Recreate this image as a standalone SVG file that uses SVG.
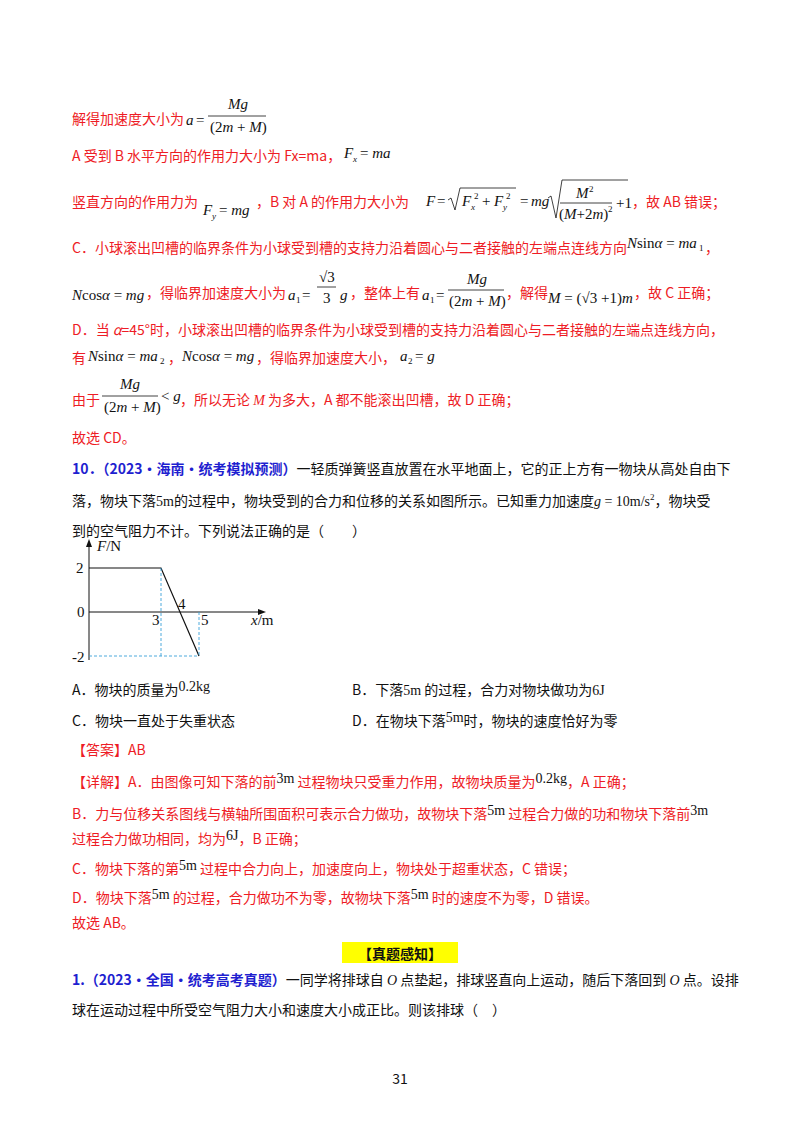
<svg xmlns="http://www.w3.org/2000/svg" width="800" height="1132" viewBox="0 0 800 1132">
<style>
text{font-family:"Noto Sans CJK SC","Noto Sans",sans-serif;font-size:14px}
.r{fill:#ee1c25}
.k{fill:#111}
.m{font-family:"Liberation Serif",serif;font-style:italic;fill:#111;font-size:15px}
.n{font-family:"Liberation Serif",serif;font-style:normal;fill:#111;font-size:15px}
.b{fill:#1f1fd0;font-weight:bold}
.s{font-size:9px}
</style>
<rect width="800" height="1132" fill="#fff"/>
<g id="solution">
<text x="72" y="124" class="r">解得加速度大小为</text>
<text x="186" y="125" class="m">a</text><text x="196" y="125" class="n">=</text>
<text x="228" y="109" class="m">Mg</text><line x1="208" y1="116" x2="266" y2="116" stroke="#111" stroke-width="0.8"/>
<text x="210" y="132" class="n">(2<tspan class="m">m</tspan> + <tspan class="m">M</tspan>)</text>
<text x="72" y="161" class="r">A 受到 B 水平方向的作用力大小为 Fx=ma，</text>
<text x="344" y="158" class="m">F</text><text x="353" y="162" class="m s">x</text><text x="360" y="158" class="n">= <tspan class="m">ma</tspan></text>
<text x="72" y="207" class="r">竖直方向的作用力为</text>
<text x="203" y="215" class="m">F</text><text x="212" y="219" class="m s">y</text><text x="219" y="215" class="n">= <tspan class="m">mg</tspan></text>
<text x="256" y="207" class="r">，B 对 A 的作用力大小为</text>
<text x="426" y="206" class="m">F</text><text x="437" y="206" class="n">=</text>
<path d="M448,200 l3,-2 l4,12 l5,-22 h56" fill="none" stroke="#111" stroke-width="0.8"/>
<text x="462" y="206" class="m">F</text><text x="471" y="210" class="m s">x</text><text x="474" y="199" class="n s">2</text>
<text x="482" y="206" class="n">+</text>
<text x="494" y="206" class="m">F</text><text x="503" y="210" class="m s">y</text><text x="506" y="199" class="n s">2</text>
<text x="520" y="206" class="n">=</text>
<text x="531" y="206" class="m">mg</text>
<path d="M548,198 l3,-2 l5,22 l6,-38 h66" fill="none" stroke="#111" stroke-width="0.8"/>
<text x="576" y="198" class="m">M</text><text x="589" y="192" class="n s">2</text>
<line x1="560" y1="203" x2="612" y2="203" stroke="#111" stroke-width="0.8"/>
<text x="559" y="219" class="n">(<tspan class="m">M</tspan>+2<tspan class="m">m</tspan>)</text><text x="608" y="212" class="n s">2</text>
<text x="616" y="208" class="n">+1</text>
<text x="632" y="207" class="r">，故 AB 错误；</text>
<text x="72" y="253" class="r">C．小球滚出凹槽的临界条件为小球受到槽的支持力沿着圆心与二者接触的左端点连线方向</text>
<text x="627" y="248" class="m">N<tspan class="n">sin</tspan>α<tspan class="n"> = </tspan>ma</text><text x="699" y="251" class="n s">1</text>
<text x="705" y="253" class="r">，</text>
<text x="72" y="300" class="m">N<tspan class="n">cos</tspan>α<tspan class="n"> = </tspan>mg</text>
<text x="146" y="298" class="r">，得临界加速度大小为</text>
<text x="288" y="300" class="m">a</text><text x="296" y="303" class="n s">1</text><text x="302" y="300" class="n">=</text>
<text x="319" y="282" class="n">√3</text><line x1="317" y1="287" x2="336" y2="287" stroke="#111" stroke-width="0.8"/>
<text x="323" y="303" class="n">3</text><text x="340" y="300" class="m">g</text>
<text x="350" y="298" class="r">，整体上有</text>
<text x="422" y="300" class="m">a</text><text x="430" y="303" class="n s">1</text><text x="436" y="300" class="n">=</text>
<text x="467" y="284" class="m">Mg</text><line x1="448" y1="290" x2="504" y2="290" stroke="#111" stroke-width="0.8"/>
<text x="449" y="306" class="n">(2<tspan class="m">m</tspan> + <tspan class="m">M</tspan>)</text>
<text x="506" y="298" class="r">，解得</text>
<text x="548" y="303" class="m">M<tspan class="n"> = (√3 +1)</tspan>m</text>
<text x="634" y="298" class="r">，故 C 正确；</text>
<text x="72" y="335" class="r">D．当 <tspan font-style="italic">α</tspan>=45°时，小球滚出凹槽的临界条件为小球受到槽的支持力沿着圆心与二者接触的左端点连线方向，</text>
<text x="72" y="363" class="r">有</text>
<text x="88" y="361" class="m">N<tspan class="n">sin</tspan>α<tspan class="n"> = </tspan>ma</text><text x="160" y="364" class="n s">2</text>
<text x="168" y="363" class="r">，</text>
<text x="182" y="361" class="m">N<tspan class="n">cos</tspan>α<tspan class="n"> = </tspan>mg</text>
<text x="256" y="363" class="r">，得临界加速度大小，</text>
<text x="400" y="361" class="m">a</text><text x="408" y="364" class="n s">2</text><text x="415" y="361" class="n">= <tspan class="m">g</tspan></text>
<text x="72" y="405" class="r">由于</text>
<text x="120" y="389" class="m">Mg</text><line x1="102" y1="396" x2="158" y2="396" stroke="#111" stroke-width="0.8"/>
<text x="104" y="412" class="n">(2<tspan class="m">m</tspan> + <tspan class="m">M</tspan>)</text>
<text x="161" y="401" class="n">&lt; <tspan class="m">g</tspan></text>
<text x="180" y="405" class="r">，所以无论 <tspan font-family="Liberation Serif" font-style="italic">M</tspan> 为多大，A 都不能滚出凹槽，故 D 正确；</text>
<text x="72" y="443" class="r">故选 CD。</text>
</g>
<g id="question10">
<text x="72" y="474" class="b">10．（2023·海南·统考模拟预测）<tspan class="k" font-weight="normal">一轻质弹簧竖直放置在水平地面上，它的正上方有一物块从高处自由下</tspan></text>
<text x="72" y="506" class="k">落，物块下落<tspan font-family="Liberation Serif">5m</tspan>的过程中，物块受到的合力和位移的关系如图所示。已知重力加速度<tspan font-family="Liberation Serif" font-style="italic">g</tspan><tspan font-family="Liberation Serif"> = 10m/s</tspan><tspan font-family="Liberation Serif" font-size="9" dy="-6">2</tspan><tspan dy="6">，物块受</tspan></text>
<text x="72" y="536" class="k">到的空气阻力不计。下列说法正确的是（　　）</text>
</g>
<g id="graph">
<line x1="89" y1="660" x2="89" y2="544" stroke="#111" stroke-width="1"/>
<path d="M86,547 L89,539 L92,547 Z" fill="#111"/>
<line x1="89" y1="612" x2="262" y2="612" stroke="#111" stroke-width="1"/>
<path d="M258,609 L266,612 L258,615 Z" fill="#111"/>
<polyline points="89,568 161,568 199,656" fill="none" stroke="#111" stroke-width="1.2"/>
<path d="M161,568 V656 M199,612 V656 M89,656 H199" fill="none" stroke="#3aa0d8" stroke-width="0.9" stroke-dasharray="3,2"/>
<text x="97" y="551" class="m">F<tspan class="n">/N</tspan></text>
<text x="76" y="573" class="n">2</text>
<text x="77" y="617" class="n">0</text>
<text x="72" y="662" class="n">-2</text>
<text x="152" y="625" class="n">3</text>
<text x="178" y="609" class="n">4</text>
<text x="201" y="625" class="n">5</text>
<text x="251" y="625" class="m">x<tspan class="n">/m</tspan></text>
</g>
<g id="options">
<text x="72" y="695" class="k">A．物块的质量为<tspan font-family="Liberation Serif" dy="-4">0.2kg</tspan></text>
<text x="352" y="695" class="k">B．下落<tspan font-family="Liberation Serif">5m</tspan> 的过程，合力对物块做功为<tspan font-family="Liberation Serif">6J</tspan></text>
<text x="72" y="726" class="k">C．物块一直处于失重状态</text>
<text x="352" y="726" class="k">D．在物块下落<tspan font-family="Liberation Serif" dy="-4">5m</tspan><tspan dy="4">时，物块的速度恰好为零</tspan></text>
</g>
<g id="answer">
<text x="72" y="755" class="r">【答案】AB</text>
<text x="72" y="787" class="r">【详解】A．由图像可知下落的前<tspan class="k" font-family="Liberation Serif" dy="-4">3m</tspan><tspan dy="4"> 过程物块只受重力作用，故物块质量为</tspan><tspan class="k" font-family="Liberation Serif" dy="-4">0.2kg</tspan><tspan dy="4">，A 正确；</tspan></text>
<text x="72" y="819" class="r">B．力与位移关系图线与横轴所围面积可表示合力做功，故物块下落<tspan class="k" font-family="Liberation Serif" dy="-4">5m</tspan><tspan dy="4"> 过程合力做的功和物块下落前</tspan><tspan class="k" font-family="Liberation Serif" dy="-4">3m</tspan></text>
<text x="72" y="844" class="r">过程合力做功相同，均为<tspan class="k" font-family="Liberation Serif" dy="-4">6J</tspan><tspan dy="4">，B 正确；</tspan></text>
<text x="72" y="874" class="r">C．物块下落的第<tspan class="k" font-family="Liberation Serif" dy="-4">5m</tspan><tspan dy="4"> 过程中合力向上，加速度向上，物块处于超重状态，C 错误；</tspan></text>
<text x="72" y="903" class="r">D．物块下落<tspan class="k" font-family="Liberation Serif" dy="-4">5m</tspan><tspan dy="4"> 的过程，合力做功不为零，故物块下落</tspan><tspan class="k" font-family="Liberation Serif" dy="-4">5m</tspan><tspan dy="4"> 时的速度不为零，D 错误。</tspan></text>
<text x="72" y="928" class="r">故选 AB。</text>
</g>
<g id="heading">
<rect x="342" y="942" width="116" height="21" fill="#ffff00"/>
<text x="400" y="959" text-anchor="middle" font-size="17" font-weight="bold" fill="#111">【真题感知】</text>
</g>
<g id="question1">
<text x="72" y="985" class="b">1.（2023·全国·统考高考真题）<tspan class="k" font-weight="normal">一同学将排球自 <tspan font-family="Liberation Serif" font-style="italic">O</tspan> 点垫起，排球竖直向上运动，随后下落回到 <tspan font-family="Liberation Serif" font-style="italic">O</tspan> 点。设排</tspan></text>
<text x="72" y="1015" class="k">球在运动过程中所受空气阻力大小和速度大小成正比。则该排球（　）</text>
</g>
<text x="400" y="1084" text-anchor="middle" font-size="11" class="k">31</text>
</svg>
